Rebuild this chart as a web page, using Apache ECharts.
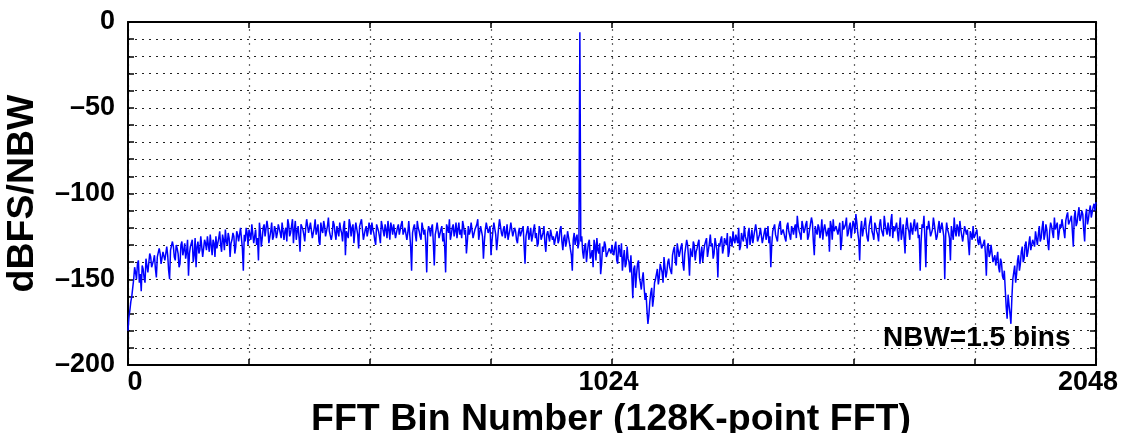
<!DOCTYPE html>
<html>
<head>
<meta charset="utf-8">
<script src="https://cdn.jsdelivr.net/npm/echarts@6/dist/echarts.min.js"></script>
<style>
  html, body { margin: 0; padding: 0; background: #fff; }
  #chart { width: 1125px; height: 433px; }
</style>
</head>
<body>
<div id="chart"></div>
<script>
// Spectrum levels (dBFS/NBW).
// levelsAtBin4k: bins 0, 4, 8, ... 2048;  levelsAtBin4kPlus2: bins 2, 6, 10, ... 2046.
const levelsAtBin4k = [
  -180,-168,-160,-150,-146,-141,-152,-157,-144,-152,-139,-145,-137,-141,-136,-149,
  -138,-135,-142,-133,-140,-136,-150,-134,-131,-139,-132,-143,-130,-136,-129,-134,
  -148,-131,-127,-136,-143,-128,-133,-126,-138,-129,-125,-134,-130,-127,-137,-132,
  -126,-130,-124,-133,-128,-123,-137,-127,-125,-131,-124,-129,-126,-145,-128,-123,
  -121,-127,-119,-125,-130,-139,-122,-126,-118,-124,-120,-128,-117,-125,-121,-123,
  -119,-126,-116,-122,-128,-118,-123,-115,-121,-127,-119,-134,-117,-124,-120,-116,
  -122,-118,-125,-115,-121,-128,-117,-123,-119,-126,-114,-121,-124,-118,-127,-120,
  -117,-123,-119,-136,-121,-115,-125,-118,-122,-116,-132,-120,-114,-124,-119,-122,
  -120,-117,-123,-130,-119,-125,-116,-122,-118,-126,-121,-117,-124,-119,-123,-118,
  -121,-116,-125,-119,-123,-117,-145,-120,-124,-116,-122,-127,-118,-121,-146,-119,
  -125,-118,-142,-121,-116,-127,-119,-123,-146,-120,-115,-124,-118,-122,-126,-117,
  -121,-116,-124,-135,-119,-122,-117,-125,-120,-115,-123,-118,-138,-121,-116,-124,
  -136,-122,-118,-133,-120,-116,-125,-119,-123,-127,-121,-118,-126,-122,-129,-120,
  -124,-119,-141,-122,-127,-120,-125,-118,-123,-129,-121,-126,-119,-134,-122,-128,
  -120,-125,-131,-122,-127,-119,-133,-124,-128,-121,-130,-145,-123,-126,-132,-6,
  -125,-138,-129,-134,-127,-136,-143,-130,-126,-135,-147,-131,-128,-137,-138,-132,
  -130,-136,-128,-141,-133,-129,-138,-143,-131,-140,-136,-161,-142,-147,-139,-152,
  -150,-155,-158,-176,-163,-155,-161,-150,-144,-149,-141,-152,-143,-146,-138,-145,
  -136,-131,-142,-133,-138,-129,-145,-134,-130,-148,-135,-128,-139,-132,-127,-136,
  -140,-130,-126,-133,-124,-129,-135,-127,-149,-131,-125,-132,-128,-123,-134,-127,
  -122,-129,-125,-120,-131,-126,-119,-127,-123,-130,-121,-125,-118,-128,-124,-121,
  -126,-120,-124,-129,-143,-122,-118,-126,-121,-116,-125,-120,-128,-117,-123,-119,
  -124,-118,-113,-122,-127,-119,-121,-116,-125,-120,-117,-136,-122,-118,-126,-115,
  -121,-117,-124,-134,-119,-115,-122,-118,-125,-133,-116,-120,-114,-123,-117,-121,
  -118,-112,-123,-139,-116,-121,-114,-126,-119,-113,-124,-117,-122,-128,-115,-120,
  -113,-121,-117,-125,-112,-119,-123,-116,-120,-127,-118,-135,-114,-122,-117,-124,
  -115,-120,-126,-145,-118,-113,-143,-121,-117,-124,-114,-119,-125,-116,-122,-118,
  -150,-117,-123,-139,-119,-114,-125,-120,-116,-122,-127,-118,-121,-136,-124,-119,
  -126,-121,-130,-124,-133,-127,-148,-129,-135,-131,-138,-142,-134,-146,-140,-150,
  -156,-173,-165,-176,-150,-142,-147,-136,-141,-131,-138,-128,-134,-125,-132,-127,
  -122,-130,-119,-126,-116,-124,-121,-133,-117,-123,-114,-120,-127,-118,-115,-122,
  -116,-111,-119,-113,-131,-110,-117,-108,-114,-112,-128,-109,-115,-107,-111,-106,
  -105
];
const levelsAtBin4kPlus2 = [
  -172,-163,-155,-143,-150,-139,-147,-142,-149,-138,-146,-135,-143,-139,-144,-137,
  -132,-141,-134,-139,-131,-145,-133,-128,-137,-130,-135,-141,-128,-133,-138,-127,
  -135,-129,-140,-126,-131,-135,-125,-137,-127,-133,-130,-124,-136,-129,-125,-131,
  -122,-134,-127,-121,-130,-126,-129,-123,-135,-122,-128,-120,-132,-124,-120,-130,
  -124,-118,-129,-121,-126,-117,-131,-120,-125,-116,-129,-122,-127,-119,-126,-118,
  -123,-117,-127,-120,-115,-125,-119,-129,-116,-122,-126,-118,-121,-128,-115,-123,
  -117,-126,-120,-124,-118,-130,-121,-116,-125,-119,-122,-127,-116,-123,-119,-125,
  -121,-128,-116,-122,-126,-118,-120,-129,-117,-124,-119,-115,-127,-121,-125,-117,
  -124,-121,-127,-118,-122,-129,-119,-125,-121,-116,-127,-120,-118,-126,-120,-124,
  -118,-124,-120,-127,-116,-131,-123,-118,-128,-120,-125,-117,-124,-129,-123,-121,
  -120,-129,-124,-117,-126,-121,-128,-131,-118,-123,-127,-120,-125,-117,-121,-124,
  -126,-119,-121,-128,-124,-117,-126,-121,-118,-127,-119,-125,-128,-117,-123,-119,
  -128,-117,-124,-127,-115,-123,-121,-126,-118,-124,-117,-125,-120,-127,-123,-125,
  -121,-130,-125,-119,-124,-128,-121,-126,-131,-119,-127,-123,-129,-124,-125,-121,
  -127,-130,-124,-129,-121,-128,-126,-131,-122,-129,-136,-127,-130,-124,-129,-128,
  -134,-131,-140,-129,-138,-133,-127,-139,-133,-129,-141,-134,-130,-136,-132,-135,
  -134,-131,-139,-130,-137,-145,-133,-141,-138,-146,-148,-144,-155,-141,-149,-156,
  -146,-162,-168,-171,-158,-166,-152,-147,-153,-141,-146,-137,-149,-140,-143,-147,
  -133,-140,-129,-137,-131,-141,-135,-127,-138,-132,-137,-130,-134,-129,-141,-131,
  -134,-128,-137,-129,-131,-138,-126,-133,-129,-127,-135,-126,-130,-137,-125,-131,
  -127,-124,-129,-133,-123,-128,-125,-132,-120,-126,-129,-124,-122,-127,-120,-129,
  -123,-127,-119,-125,-130,-121,-124,-128,-118,-124,-121,-126,-119,-122,-127,-121,
  -120,-126,-119,-124,-116,-123,-118,-127,-121,-114,-128,-119,-124,-120,-122,-127,
  -118,-125,-120,-116,-127,-122,-119,-124,-117,-128,-121,-118,-125,-119,-126,-116,
  -123,-117,-127,-121,-125,-118,-122,-128,-116,-122,-127,-119,-124,-118,-121,-125,
  -118,-124,-121,-116,-126,-122,-117,-128,-114,-123,-126,-119,-120,-127,-121,-118,
  -122,-117,-124,-128,-120,-126,-119,-116,-125,-121,-118,-127,-120,-123,-117,-125,
  -124,-121,-126,-119,-127,-122,-118,-125,-121,-128,-119,-124,-129,-122,-127,-126,
  -123,-128,-125,-132,-129,-135,-131,-137,-130,-140,-136,-141,-143,-138,-148,-145,
  -166,-159,-170,-161,-146,-152,-139,-145,-134,-140,-130,-137,-129,-133,-127,-131,
  -126,-124,-128,-120,-127,-118,-129,-122,-119,-126,-121,-117,-123,-120,-119,-126,
  -113,-118,-115,-122,-114,-119,-112,-116,-110,-121,-113,-118,-110,-114,-108,-110
];
const BIN_STEP = 4;

// Labelled ticks
const xTickLabels = [0, 1024, 2048];
const yTickLabels = [0, -50, -100, -150, -200];

const xName = 'FFT Bin Number (128K-point FFT)';
const yName = 'dBFS/NBW';
const noteText = 'NBW=1.5 bins';

const FONT = '"Liberation Sans", Arial, Helvetica, sans-serif';

// Interleave the two level lists into [bin, level] pairs in bin order.
const points = [];
levelsAtBin4k.forEach((v, i) => {
  points.push([i * BIN_STEP, v]);
  if (i < levelsAtBin4kPlus2.length) points.push([i * BIN_STEP + BIN_STEP / 2, levelsAtBin4kPlus2[i]]);
});

const fmtNum = v => (v < 0 ? '\u2013' + (-v) : String(v));

const frameLine = { show: true, onZero: false, lineStyle: { color: '#000', width: 2 } };
const hDotted = { show: true, lineStyle: { color: '#222', width: 1, type: [2, 5] } };
const vDotted = { show: true, lineStyle: { color: '#666', width: 1.2, type: [2, 5] } };
const tick = { show: true, inside: true, length: 6, lineStyle: { color: '#000', width: 1.5 } };
const labelFont = { fontFamily: FONT, fontWeight: 'bold', fontSize: 27, color: '#000' };

const chart = echarts.init(document.getElementById('chart'), null, { renderer: 'canvas' });

chart.setOption({
  animation: false,
  backgroundColor: '#fff',
  grid: {
    left: 128, right: 29, top: 22, bottom: 68,
    containLabel: false, outerBoundsMode: 'none'
  },
  xAxis: [
    {
      type: 'value', min: 0, max: 2048, interval: 256, position: 'bottom',
      axisLine: frameLine,
      axisTick: tick,
      splitLine: vDotted,
      axisLabel: {
        show: true, margin: 4, showMinLabel: true, showMaxLabel: true,
        formatter: v => {
          if (!xTickLabels.includes(v)) return '';
          if (v === 0) return '{lo|' + v + '}';
          if (v === 2048) return '{hi|' + v + '}';
          return '{mid|' + v + '}';
        },
        rich: {
          lo:  Object.assign({ padding: [0, 0, 0, 14] }, labelFont),
          mid: Object.assign({ padding: [0, 7, 0, 0] }, labelFont),
          hi:  Object.assign({ padding: [0, 16, 0, 0] }, labelFont)
        }
      },
      name: xName, nameLocation: 'middle', nameGap: 30,
      nameTextStyle: { fontFamily: FONT, fontWeight: 'bold', fontSize: 37.5, color: '#000', padding: [0, 2, 0, 0] }
    },
    {
      type: 'value', min: 0, max: 2048, interval: 256, position: 'top',
      axisLine: frameLine,
      axisTick: tick,
      axisLabel: { show: false }, splitLine: { show: false }
    }
  ],
  yAxis: [
    {
      type: 'value', min: -200, max: 0, interval: 10, position: 'left',
      axisLine: frameLine,
      axisTick: tick,
      splitLine: hDotted,
      axisLabel: Object.assign({
        show: true, margin: 13,
        formatter: v => (yTickLabels.includes(v) ? fmtNum(v) : '')
      }, labelFont),
      name: yName, nameLocation: 'middle', nameGap: 86, nameRotate: 90,
      nameTextStyle: { fontFamily: FONT, fontWeight: 'bold', fontSize: 37.5, color: '#000' }
    },
    {
      type: 'value', min: -200, max: 0, interval: 10, position: 'right',
      axisLine: frameLine,
      axisTick: tick,
      axisLabel: { show: false }, splitLine: { show: false }
    }
  ],
  series: [
    {
      type: 'line', xAxisIndex: 0, yAxisIndex: 0,
      data: points, showSymbol: false, symbol: 'none',
      lineStyle: { color: '#0000ff', width: 1.5 },
      z: 3
    }
  ],
  graphic: [
    {
      type: 'text', left: 883, top: 324, z: 10,
      style: { text: noteText, fontFamily: FONT, fontWeight: 'bold', fontSize: 28, fill: '#000' }
    }
  ]
});
</script>
</body>
</html>
